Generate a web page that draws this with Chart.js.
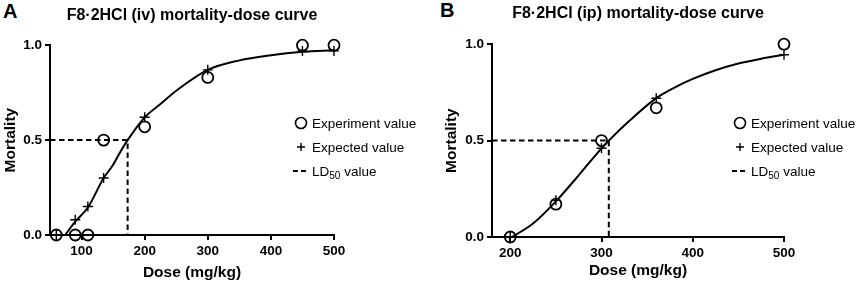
<!DOCTYPE html>
<html>
<head>
    <meta charset="UTF-8">
    <title>F8·2HCl mortality-dose curves</title>
    <script src="https://cdn.jsdelivr.net/npm/chart.js"></script>
    <style>
        body { margin: 0; background: #fff; font-family: "Liberation Sans", Arial, sans-serif; }
        #wrap { position: relative; width: 858px; height: 287px; overflow: hidden; }
        canvas { position: absolute; top: 0; }
        .letter { position: absolute; font-weight: bold; font-size: 20px; line-height: 20px; color: #000; }
        .legend { position: absolute; font-size: 13.5px; color: #000; }
        .legend .row { height: 24px; display: flex; align-items: center; white-space: nowrap; }
        .legend svg { width: 20px; height: 24px; flex: none; }
        .legend sub { font-size: 10px; vertical-align: -3px; line-height: 0; }
    </style>
</head>
<body>
<div id="wrap">
    <div class="letter" style="left:3px; top:1px;">A</div>
    <div class="letter" style="left:440px; top:0px;">B</div>
    <canvas id="chartA" width="429" height="287" style="left:0px;"></canvas>
    <canvas id="chartB" width="429" height="287" style="left:429px;"></canvas>
    <div class="legend" id="legendA" style="left:292px; top:111px;"></div>
    <div class="legend" id="legendB" style="left:731px; top:111px;"></div>
</div>

<script>
    // panel A: intravenous
    var doseA = [60, 90, 110, 135, 200, 300, 450, 500];
    var experimentA = [0, 0, 0, 0.5, 0.57, 0.83, 1.0, 1.0];
    var expectedA = [0, 0.08, 0.15, 0.30, 0.62, 0.87, 0.97, 0.97];
    var curveDoseA = [74, 90, 110, 135, 150, 160, 173, 200, 225, 250, 300, 350, 400, 450, 500];
    var curveMortA = [0, 0.07, 0.145, 0.30, 0.37, 0.43, 0.5, 0.62, 0.69, 0.76, 0.87, 0.92, 0.947, 0.965, 0.974];
    var ld50A = 173;
    var xTicksA = [100, 200, 300, 400, 500];

    // panel B: intraperitoneal
    var doseB = [200, 250, 300, 360, 500];
    var experimentB = [0, 0.17, 0.5, 0.67, 1.0];
    var expectedB = [0, 0.19, 0.46, 0.72, 0.945];
    var curveDoseB = [202, 225, 250, 275, 300, 308, 330, 360, 380, 400, 425, 450, 475, 500];
    var curveMortB = [0, 0.07, 0.185, 0.32, 0.46, 0.5, 0.60, 0.72, 0.775, 0.82, 0.865, 0.90, 0.925, 0.945];
    var ld50B = 308;
    var xTicksB = [200, 300, 400, 500];

    var yTicks = [0, 0.5, 1.0];
    var legendLabels = ['Experiment value', 'Expected value', 'LD<sub>50</sub> value'];

    var FONT = '"Liberation Sans", Arial, sans-serif';

    function pairs(xs, ys) {
        var out = [];
        for (var i = 0; i < xs.length; i++) out.push({ x: xs[i], y: ys[i] });
        return out;
    }

    function makeChart(id, cfg) {
        var ctx = document.getElementById(id).getContext('2d');
        return new Chart(ctx, {
            type: 'scatter',
            data: {
                datasets: [
                    {
                        label: 'Experiment value',
                        data: pairs(cfg.dose, cfg.experiment),
                        pointStyle: 'circle',
                        pointRadius: 5.5,
                        pointBorderWidth: 1.8,
                        pointBorderColor: '#000',
                        pointBackgroundColor: 'rgba(0,0,0,0)',
                        clip: false
                    },
                    {
                        label: 'Expected value',
                        data: pairs(cfg.dose, cfg.expected),
                        pointStyle: 'cross',
                        pointRadius: 5,
                        pointBorderWidth: 1.4,
                        pointBorderColor: '#000',
                        clip: false
                    },
                    {
                        label: 'curve',
                        data: pairs(cfg.curveDose, cfg.curveMort),
                        showLine: true,
                        cubicInterpolationMode: 'monotone',
                        borderColor: '#000',
                        borderWidth: 2,
                        pointRadius: 0,
                        clip: false
                    },
                    {
                        label: 'LD50 value',
                        data: [{ x: cfg.xMin, y: 0.5 }, { x: cfg.ld50, y: 0.5 }, { x: cfg.ld50, y: 0 }],
                        showLine: true,
                        borderColor: '#000',
                        borderWidth: 2,
                        borderDash: [5.5, 3.5],
                        pointRadius: 0,
                        tension: 0
                    }
                ]
            },
            options: {
                responsive: false,
                animation: false,
                events: [],
                layout: { padding: { top: 0, right: cfg.padRight, bottom: 0, left: 0 } },
                plugins: {
                    legend: { display: false },
                    tooltip: { enabled: false },
                    title: {
                        display: true,
                        text: cfg.title,
                        fullSize: false,
                        color: '#000',
                        font: { family: FONT, size: 16, weight: 'bold' },
                        padding: { top: cfg.titleTop, bottom: cfg.titleBottom }
                    }
                },
                scales: {
                    x: {
                        type: 'linear',
                        min: cfg.xMin,
                        max: 500,
                        afterBuildTicks: function (scale) {
                            scale.ticks = cfg.xTicks.map(function (v) { return { value: v }; });
                        },
                        afterFit: function (scale) { scale.height = cfg.xHeight; },
                        border: { display: true, color: '#000', width: 2 },
                        grid: { drawOnChartArea: false, drawTicks: true, tickLength: 5, color: '#000', lineWidth: 2 },
                        ticks: {
                            color: '#000',
                            padding: 3,
                            maxRotation: 0,
                            font: { family: FONT, size: 13.5, weight: 'bold' },
                            callback: function (v) { return String(v); }
                        },
                        title: {
                            display: true,
                            text: 'Dose (mg/kg)',
                            color: '#000',
                            font: { family: FONT, size: 15.5, weight: 'bold' },
                            padding: { top: 0, bottom: cfg.xTitleBottom }
                        }
                    },
                    y: {
                        min: 0,
                        max: 1,
                        afterBuildTicks: function (scale) {
                            scale.ticks = yTicks.map(function (v) { return { value: v }; });
                        },
                        afterFit: function (scale) { scale.width = cfg.yWidth; },
                        border: { display: true, color: '#000', width: 2 },
                        grid: { drawOnChartArea: false, drawTicks: true, tickLength: 5, color: '#000', lineWidth: 2 },
                        ticks: {
                            color: '#000',
                            padding: 3,
                            font: { family: FONT, size: 13.5, weight: 'bold' },
                            callback: function (v) { return Number(v).toFixed(1); }
                        },
                        title: {
                            display: true,
                            text: 'Mortality',
                            color: '#000',
                            font: { family: FONT, size: 15.5, weight: 'bold' },
                            padding: { top: cfg.yTitleLeft, bottom: 0 }
                        }
                    }
                }
            }
        });
    }

    makeChart('chartA', {
        title: 'F8·2HCl (iv) mortality-dose curve',
        dose: doseA, experiment: experimentA, expected: expectedA,
        curveDose: curveDoseA, curveMort: curveMortA, ld50: ld50A,
        xMin: 50, xTicks: xTicksA,
        padRight: 95, yWidth: 50, xHeight: 52,
        titleTop: 6, titleBottom: 20, xTitleBottom: 5, yTitleLeft: 1
    });

    makeChart('chartB', {
        title: 'F8·2HCl (ip) mortality-dose curve',
        dose: doseB, experiment: experimentB, expected: expectedB,
        curveDose: curveDoseB, curveMort: curveMortB, ld50: ld50B,
        xMin: 180, xTicks: xTicksB,
        padRight: 74, yWidth: 63, xHeight: 50,
        titleTop: 4, titleBottom: 21, xTitleBottom: 7, yTitleLeft: 13
    });

    // legend symbols: open circle, plus, dashed line
    var symbols = [
        '<svg viewBox="0 0 20 24"><circle cx="9" cy="12" r="5.5" fill="none" stroke="#000" stroke-width="1.6"/></svg>',
        '<svg viewBox="0 0 20 24"><path d="M5 12H13M9 8V16" stroke="#000" stroke-width="1.4"/></svg>',
        '<svg viewBox="0 0 20 24"><path d="M1 12H6M9 12H14" stroke="#000" stroke-width="2"/></svg>'
    ];

    ['legendA', 'legendB'].forEach(function (id) {
        var html = '';
        for (var i = 0; i < legendLabels.length; i++) {
            html += '<div class="row">' + symbols[i] + '<span>' + legendLabels[i] + '</span></div>';
        }
        document.getElementById(id).innerHTML = html;
    });
</script>
</body>
</html>
